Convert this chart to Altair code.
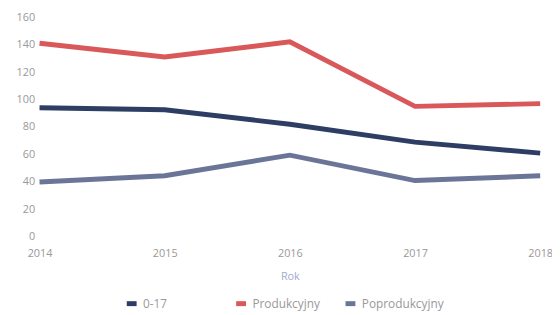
import altair as alt
import pandas as pd

years = [2014, 2015, 2016, 2017, 2018]
series_names = ["0-17", "Produkcyjny", "Poprodukcyjny"]
v_0_17 = [94, 92.5, 82, 69, 61]
v_prod = [141, 131, 142, 95, 97]
v_poprod = [40, 44.5, 59.5, 41, 44.5]
colors = ["#2e3d63", "#d9585a", "#6b7598"]

rows = []
for name, vals in zip(series_names, [v_0_17, v_prod, v_poprod]):
    for y, v in zip(years, vals):
        rows.append({"Rok": str(y), "Wartość": v, "Grupa": name})
df = pd.DataFrame(rows)

font = "Open Sans"
chart = alt.Chart(df).mark_line(strokeWidth=5, strokeCap="butt").encode(
    x=alt.X("Rok:O", scale=alt.Scale(type="point", padding=0),
            axis=alt.Axis(labelAngle=0, ticks=False, domain=False, grid=False,
                          labelPadding=11, title="Rok", titleColor="#a3aac8",
                          titleFontWeight="normal", titlePadding=12, titleFontSize=11)),
    y=alt.Y("Wartość:Q", scale=alt.Scale(domain=[0, 160]),
            axis=alt.Axis(values=[0, 20, 40, 60, 80, 100, 120, 140, 160], ticks=False,
                          domain=False, grid=False, title=None, labelPadding=5)),
    color=alt.Color("Grupa:N", sort=series_names,
                    scale=alt.Scale(domain=series_names, range=colors),
                    legend=alt.Legend(title=None, orient="none", direction="horizontal",
                                      legendX=86, legendY=283, gridAlign="all",
                                      columnPadding=0, symbolType="stroke",
                                      symbolSize=100, symbolStrokeWidth=5,
                                      labelFontSize=12, labelColor="#999999")),
).properties(
    width=508, height=223,
    autosize=alt.AutoSizeParams(type="none"),
    padding={"left": 32, "top": 7, "right": 12, "bottom": 76},
).configure_view(stroke=None).configure_axis(
    labelFont=font, titleFont=font, labelColor="#999999", labelFontSize=11
).configure_legend(labelFont=font)

chart.save("out.html", embed_options={"renderer": "svg", "actions": False})
